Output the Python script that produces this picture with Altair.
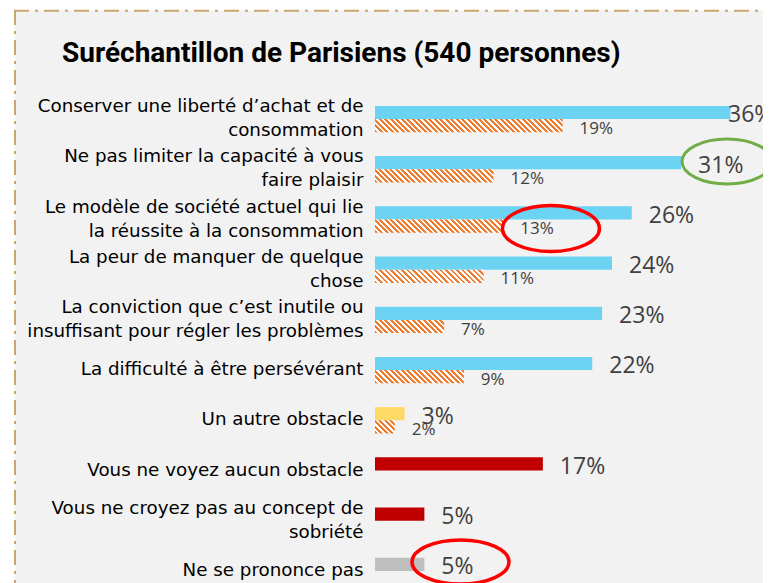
import altair as alt
import pandas as pd

# ---------------- data ----------------
categories = [
    "Conserver une liberté d’achat et de|consommation",
    "Ne pas limiter la capacité à vous|faire plaisir",
    "Le modèle de société actuel qui lie|la réussite à la consommation",
    "La peur de manquer de quelque|chose",
    "La conviction que c’est inutile ou|insuffisant pour régler les problèmes",
    "La difficulté à être persévérant",
    "Un autre obstacle",
    "Vous ne voyez aucun obstacle",
    "Vous ne croyez pas au concept de|sobriété",
    "Ne se prononce pas",
]
parisiens = [36, 31, 26, 24, 23, 22, 3, 17, 5, 5]
ensemble = [19, 12, 13, 11, 7, 9, 2, None, None, None]
kinds = ["obstacle"] * 6 + ["autre", "aucun", "aucun", "nsp"]
kind_domain = ["obstacle", "autre", "aucun", "nsp"]

title_text = "Suréchantillon de Parisiens (540 personnes)"

# annotation ellipses: (category index, sub-band, x position in %)
ann_green = (1, "a", 35.65)
ann_red_1 = (2, "b", 17.82)
ann_red_2 = (9, "a", 8.66)

# ---------------- layout constants ----------------
PX = 9.875                 # pixels per percentage point
W_PLOT = 388
H_PLOT = 502
X_MAX = W_PLOT / PX
PAD_INNER = 0.474
STEP = H_PLOT / len(categories)
HALF = STEP * (1 - PAD_INNER) / 2

ORANGE = "#ed7d31"
LABEL_COLOR = "#404040"

x_scale = alt.Scale(domain=[0, X_MAX], nice=False, zero=True)
y_enc = alt.Y(
    "cat:N",
    sort=None,
    scale=alt.Scale(domain=categories, paddingInner=PAD_INNER, paddingOuter=PAD_INNER / 2),
    axis=alt.Axis(
        title=None, domain=False, ticks=False, grid=False,
        labelExpr="split(datum.label, '|')",
        labelFont="DejaVu Sans", labelFontSize=18.3, labelColor="#000000",
        labelPadding=12, labelLimit=600, labelLineHeight=24, zindex=1,
        labelOffset={"condition": {"test": "indexof(datum.label, '|') >= 0", "value": -12},
                     "value": 0},
    ),
)
yoff_enc = alt.YOffset("series:N", scale=alt.Scale(domain=["a", "b"]))


def hatch(w, h, period=5.5, frac=0.52):
    s = w + h
    d = w * w + h * h
    x2 = s * w / d
    y2 = 1 - s * h / d
    stops = []
    k = 0
    while k * period < s:
        o0 = min(k * period / s, 1)
        o1 = min((k + frac) * period / s, 1)
        o2 = min((k + 1) * period / s, 1)
        stops += [
            {"offset": o0, "color": ORANGE},
            {"offset": o1, "color": ORANGE},
            {"offset": o1, "color": "#ffffff"},
            {"offset": o2, "color": "#ffffff"},
        ]
        k += 1
    return {"gradient": "linear", "x1": 0, "y1": 1, "x2": x2, "y2": y2, "stops": stops}


df_a = pd.DataFrame({"cat": categories, "series": "a", "value": parisiens, "kind": kinds})
rows_b = [(c, v) for c, v in zip(categories, ensemble) if v is not None]
df_b = pd.DataFrame({"cat": [c for c, _ in rows_b], "series": "b", "value": [v for _, v in rows_b]})
dummy = pd.DataFrame({"d": [0]})

# background panel + dash-dot border
panel = alt.Chart(dummy).mark_rect(fill="#f2f2f2").encode(
    x=alt.value(-360), x2=alt.value(420), y=alt.value(-83.5), y2=alt.value(540)
)
border_style = dict(color="#c8a66e", strokeWidth=2, strokeDash=[15, 6, 3, 6])
border_top = alt.Chart(dummy).mark_rule(**border_style).encode(
    x=alt.value(-361), x2=alt.value(420), y=alt.value(-83.3)
)
border_left = alt.Chart(dummy).mark_rule(**border_style).encode(
    x=alt.value(-360), y=alt.value(-84), y2=alt.value(540)
)

title = alt.Chart(dummy).mark_text(
    text=title_text, font="Roboto", fontSize=28, fontWeight="bold", color="#000000",
    align="left", baseline="middle"
).encode(x=alt.value(-313), y=alt.value(-40.2))

bars_a = alt.Chart(df_a).mark_bar().encode(
    x=alt.X("value:Q", scale=x_scale, axis=None),
    y=y_enc,
    yOffset=yoff_enc,
    color=alt.Color("kind:N", scale=alt.Scale(domain=kind_domain,
                    range=["#6dd3f2", "#ffd966", "#c00000", "#bfbfbf"]), legend=None),
)

hatched = []
for c, v in rows_b:
    d = pd.DataFrame({"cat": [c], "series": ["b"], "value": [v]})
    hatched.append(
        alt.Chart(d).mark_bar(fill=hatch(v * PX, HALF)).encode(
            x=alt.X("value:Q", scale=x_scale, axis=None), y=y_enc, yOffset=yoff_enc
        )
    )

lab_calc = "min(datum.value + 1.72, 35.75)"
labels_a = alt.Chart(df_a).transform_calculate(
    lx=lab_calc, label="datum.value + '%'"
).mark_text(align="left", baseline="middle", font="Open Sans", fontSize=23,
            color=LABEL_COLOR, dy=3).encode(
    x=alt.X("lx:Q", scale=x_scale, axis=None), y=y_enc, yOffset=yoff_enc, text="label:N"
)
labels_b = alt.Chart(df_b).transform_calculate(
    lx=lab_calc, label="datum.value + '%'"
).mark_text(align="left", baseline="middle", font="Open Sans", fontSize=17,
            color=LABEL_COLOR, dy=3).encode(
    x=alt.X("lx:Q", scale=x_scale, axis=None), y=y_enc, yOffset=yoff_enc, text="label:N"
)


def ellipse(ann, color, rx, ratio, yshift, width):
    i, ser, xv = ann
    d = pd.DataFrame({"cat": [categories[i]], "series": [ser], "value": [xv]})
    path = (f"M-1,{yshift}A1,{ratio},0,1,1,1,{yshift}"
            f"A1,{ratio},0,1,1,-1,{yshift}Z")
    return alt.Chart(d).mark_point(
        shape=path, size=(2 * rx) ** 2, filled=False, stroke=color,
        strokeWidth=width, opacity=1
    ).encode(x=alt.X("value:Q", scale=x_scale, axis=None), y=y_enc, yOffset=yoff_enc)


ell = [
    ellipse(ann_green, "#70ad47", 45, 0.5, -0.027, 3),
    ellipse(ann_red_1, "#ff0000", 48.5, 0.474, 0.05, 3.5),
    ellipse(ann_red_2, "#ff0000", 48.5, 0.455, -0.047, 3.5),
]

chart = alt.layer(
    panel, border_top, border_left, title, bars_a, *hatched, labels_a, labels_b, *ell
).properties(
    width=W_PLOT,
    height=H_PLOT,
    autosize="none",
    padding={"left": 367, "top": 86, "right": 0, "bottom": 0},
).configure(background="white").configure_view(stroke=None)

chart.save("out.html", embed_options={"renderer": "svg", "actions": False})
